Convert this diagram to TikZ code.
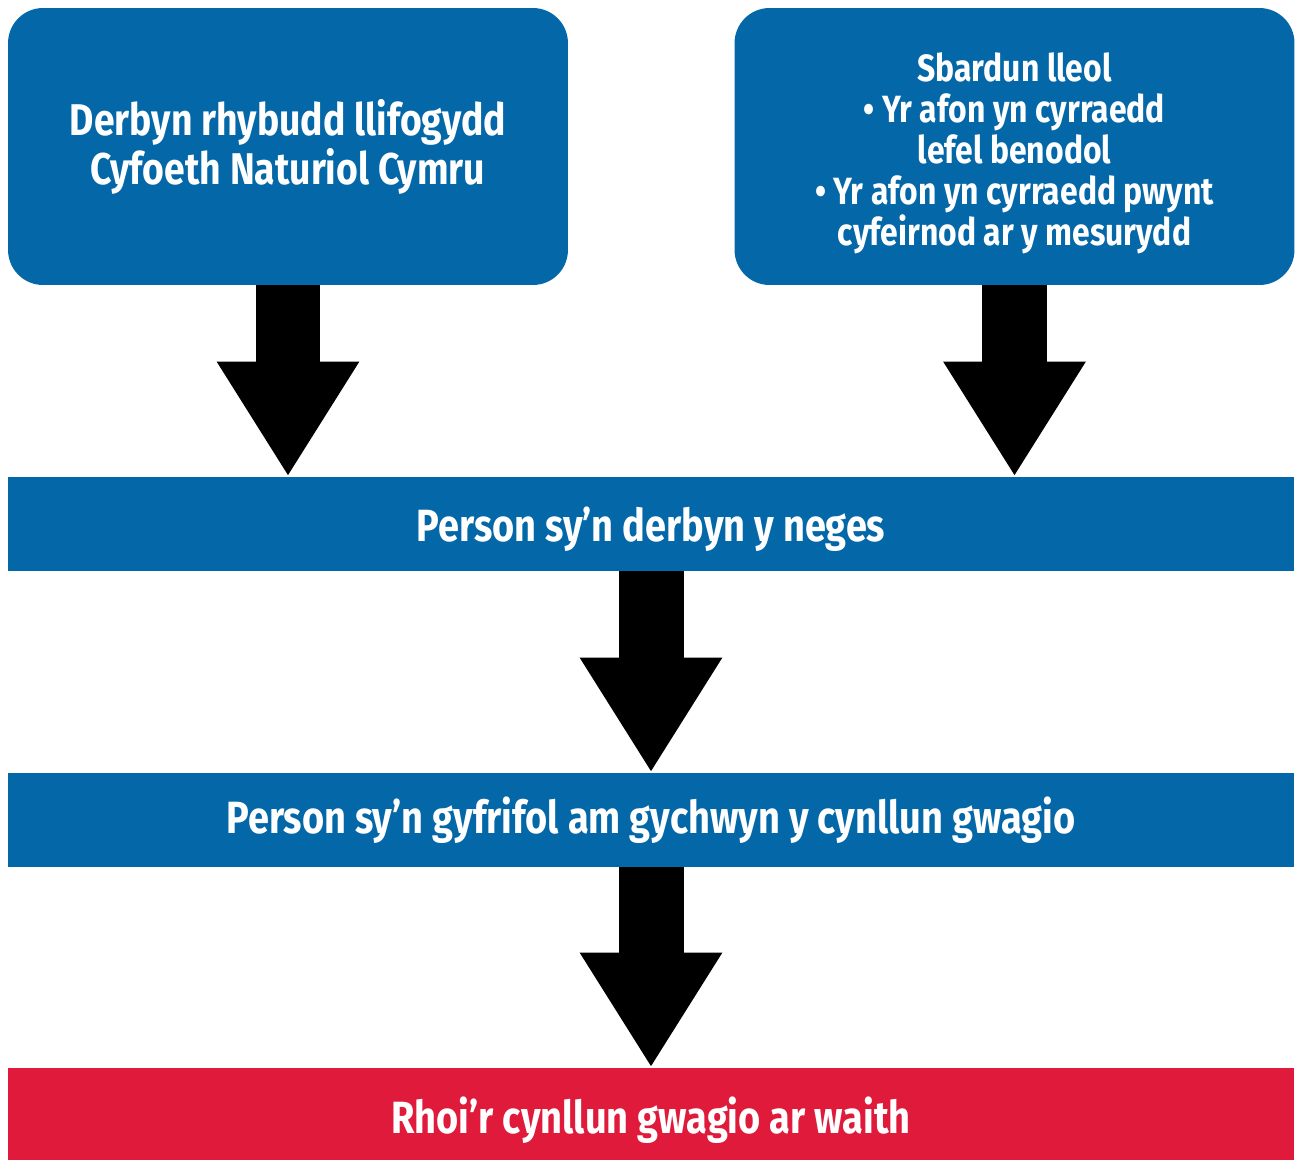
\documentclass[tikz,border=0pt]{standalone}
\usepackage{fontspec}
\setmainfont{Fira Sans}[FakeStretch=0.84]
\usetikzlibrary{arrows.meta}
\definecolor{nrwblue}{RGB}{4,104,168}
\definecolor{nrwred}{RGB}{224,26,59}
\newcommand{\lowered}[2]{\raisebox{-#1}[\height][\depth]{#2}}

\begin{document}
\begin{tikzpicture}[x=0.02cm, y=-0.02cm,
                    box/.style={rectangle, rounded corners=0.7cm, fill=nrwblue, text=white, align=center,
                                minimum width=11.2cm, minimum height=5.54cm, inner sep=0pt,
                                font=\bfseries\fontsize{25.3}{27.9}\selectfont},
                    bar/.style={rectangle, fill=nrwblue, text=white, align=center,
                                minimum width=25.72cm, minimum height=1.88cm, inner sep=0pt,
                                font=\bfseries\fontsize{25.7}{28}\selectfont},
                    flow/.style={line width=1.3cm, -{Triangle[width=2.68cm, length=2.3cm]}}]
  \useasboundingbox (0,0) rectangle (1298,1160);
  \node[box] (warning) at (288,146.5) {Derbyn rhybudd llifogydd\\Cyfoeth Naturiol Cymru};
  \node[box] (trigger) at (1014.5,146.5) {};
  \node[text=white, align=center, font=\bfseries\fontsize{21.6}{23.3}\selectfont] (triggertext) at (1014.5,153)
     {Sbardun lleol\\ \textbullet{} Yr afon yn cyrraedd\\ lefel benodol\\ \textbullet{} Yr afon yn cyrraedd pwynt\\ cyfeirnod ar y mesurydd};
  \node[bar] (receiver) at (651,524) {\lowered{2.8pt}{Person sy’n derbyn y neges}};
  \node[bar] (responsible) at (651,820) {Person sy’n gyfrifol am gychwyn y cynllun gwagio};
  \node[bar, fill=nrwred, minimum height=1.84cm] (action) at (651,1114) {\lowered{3.4pt}{Rhoi’r cynllun gwagio ar waith}};
  \draw[flow] (warning.south) -- (warning.south |- receiver.north);
  \draw[flow] (trigger.south) -- (trigger.south |- receiver.north);
  \draw[flow] (receiver) -- (responsible);
  \draw[flow] (responsible) -- (action);
\end{tikzpicture}
\end{document}
